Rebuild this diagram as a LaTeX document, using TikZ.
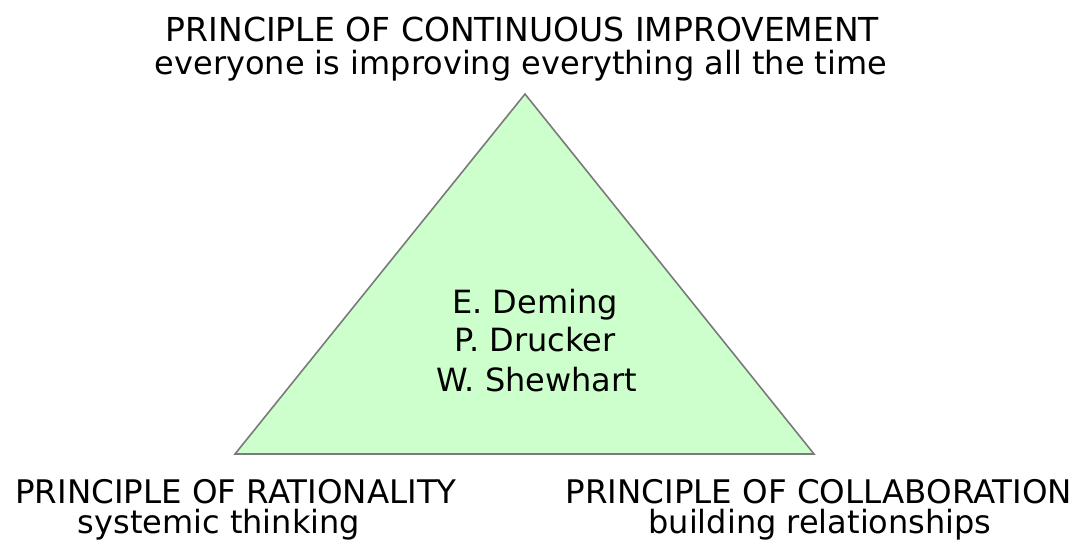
\documentclass[tikz,border=0pt]{standalone}
\usepackage{fontspec}
\setmainfont{DejaVu Sans}
\definecolor{trifill}{HTML}{CCFFCC}
\definecolor{triline}{HTML}{7A7A7A}
\begin{document}
\begin{tikzpicture}[x=1pt,y=1pt,
  lbl/.style={inner sep=0pt,anchor=base,font=\fontsize{32}{38}\selectfont,text=black},
  caplbl/.style={lbl,font=\fontsize{32.5}{38}\selectfont},
  toplbl/.style={lbl,font=\fontsize{33}{38}\selectfont}]
\useasboundingbox (0,0) rectangle (1083,542);
\coordinate (apex) at (525,448);
\coordinate (bl) at (235,88);
\coordinate (br) at (814,88);
\path[fill=trifill,draw=triline,line width=1.6pt,line join=miter] (apex) -- (br) -- (bl) -- cycle;
\node[toplbl] (t1) at (522.5,500) {PRINCIPLE OF CONTINUOUS IMPROVEMENT};
\node[lbl] (t2) at (521,467) {everyone is improving everything all the time};
\node[lbl] (c1) at (535,229) {E. Deming};
\node[lbl] (c2) at (535,191) {P. Drucker};
\node[lbl] (c3) at (537,151) {W. Shewhart};
\node[caplbl] (l1) at (236,39) {PRINCIPLE OF RATIONALITY};
\node[lbl] (l2) at (219,8.5) {systemic thinking};
\node[caplbl] (r1) at (819,39) {PRINCIPLE OF COLLABORATION};
\node[lbl] (r2) at (820,8.5) {building relationships};
\end{tikzpicture}
\end{document}
